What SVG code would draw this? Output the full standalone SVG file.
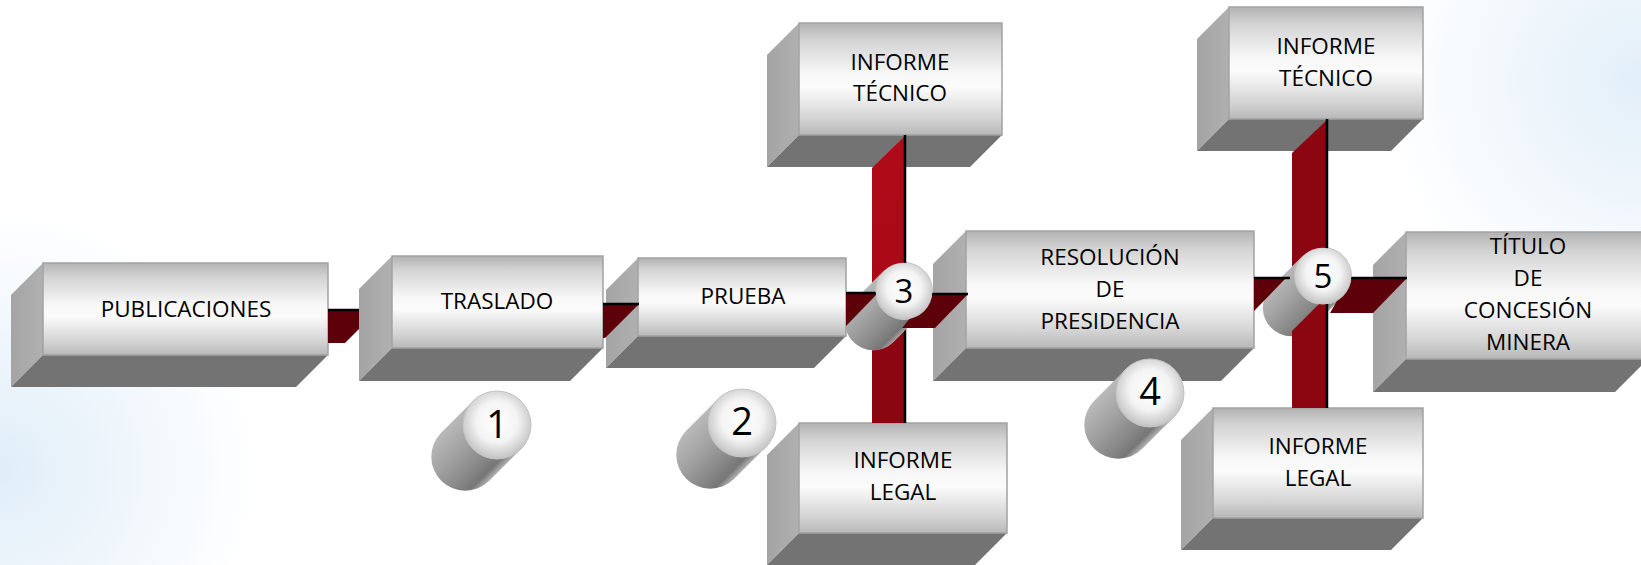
<svg xmlns="http://www.w3.org/2000/svg" width="1641" height="565" viewBox="0 0 1641 565">
<defs>
<linearGradient id="gFront" x1="0" y1="0" x2="0" y2="1">
<stop offset="0" stop-color="#b2b2b2"/><stop offset="0.15" stop-color="#d3d3d3"/><stop offset="0.45" stop-color="#f7f7f7"/><stop offset="0.58" stop-color="#fbfbfb"/><stop offset="0.85" stop-color="#d4d4d4"/><stop offset="1" stop-color="#b8b8b8"/>
</linearGradient>
<linearGradient id="gSide" x1="0" y1="0" x2="1" y2="0">
<stop offset="0" stop-color="#a4a4a4"/><stop offset="1" stop-color="#b0b0b0"/>
</linearGradient>
<linearGradient id="gBody" x1="0" y1="0" x2="1" y2="1">
<stop offset="0.27" stop-color="#b8b8b8"/><stop offset="0.42" stop-color="#a4a4a4"/><stop offset="0.6" stop-color="#888888"/><stop offset="0.69" stop-color="#767676"/><stop offset="0.74" stop-color="#b0b0b0"/>
</linearGradient>
<radialGradient id="gFace" cx="0.5" cy="0.45" r="0.55">
<stop offset="0" stop-color="#ffffff"/><stop offset="0.55" stop-color="#f4f4f4"/><stop offset="1" stop-color="#c2c2c2"/>
</radialGradient>
<linearGradient id="gBar3" gradientUnits="userSpaceOnUse" x1="0" y1="135" x2="0" y2="423">
<stop offset="0" stop-color="#b00a17"/><stop offset="0.56" stop-color="#a80915"/><stop offset="0.57" stop-color="#8d0611"/><stop offset="1" stop-color="#8a0611"/>
</linearGradient>
<radialGradient id="gGlowBL" cx="0" cy="470" r="260" gradientUnits="userSpaceOnUse">
<stop offset="0" stop-color="#d6e8f6" stop-opacity="0.75"/><stop offset="1" stop-color="#d6e8f6" stop-opacity="0"/>
</radialGradient>
<radialGradient id="gGlowTR" cx="1641" cy="80" r="260" gradientUnits="userSpaceOnUse">
<stop offset="0" stop-color="#d6e8f6" stop-opacity="0.7"/><stop offset="1" stop-color="#d6e8f6" stop-opacity="0"/>
</radialGradient>
<clipPath id="cNoHull">
<path clip-rule="evenodd" d="M0,0 H1641 V565 H0 Z M924.15,311.15 L893.15,342.15 A28.5,28.5 0 0 1 852.85,301.85 L883.85,270.85 A28.5,28.5 0 0 1 924.15,311.15 Z M1343.15,296.15 L1311.15,328.15 A28.5,28.5 0 0 1 1270.85,287.85 L1302.85,255.85 A28.5,28.5 0 0 1 1343.15,296.15 Z"/>
</clipPath>
<clipPath id="cNoFace">
<path clip-rule="evenodd" d="M0,0 H1641 V565 H0 Z M875.5,291 A28.5,28.5 0 1 0 932.5,291 A28.5,28.5 0 1 0 875.5,291 Z M1294.5,276 A28.5,28.5 0 1 0 1351.5,276 A28.5,28.5 0 1 0 1294.5,276 Z"/>
</clipPath>
</defs>
<style>
.front{fill:url(#gFront);stroke:#a2a2a2;stroke-width:1.5}
.side{fill:url(#gSide)}
.bottom{fill:#737373}
.lbl{font-family:"Open Sans","Noto Sans","DejaVu Sans",sans-serif;font-size:22.5px;fill:#000;text-anchor:middle}
.num{font-family:"Open Sans","Noto Sans","DejaVu Sans",sans-serif;fill:#000;text-anchor:middle}
.body{fill:url(#gBody)}
.face{fill:url(#gFace);stroke:#c4c4c4;stroke-width:1}
.strip{fill:#5d0009}
.edge{stroke:#000;stroke-width:2.5;fill:none}
</style>
<rect width="1641" height="565" fill="#ffffff"/>
<rect width="1641" height="565" fill="url(#gGlowBL)"/>
<rect width="1641" height="565" fill="url(#gGlowTR)"/>

<g id="publicaciones">
<polygon class="side" points="43,263 11,295 11,387 43,355"/>
<polygon class="bottom" points="43,355 328,355 296,387 11,387"/>
<rect class="front" x="43" y="263" width="285" height="92"/>
<text class="lbl" x="186" y="317">PUBLICACIONES</text>
</g>
<g id="traslado">
<polygon class="side" points="392,256 359,289 359,381 392,348"/>
<polygon class="bottom" points="392,348 603,348 570,381 359,381"/>
<rect class="front" x="392" y="256" width="211" height="92"/>
<text class="lbl" x="497" y="309">TRASLADO</text>
</g>
<g id="prueba">
<polygon class="side" points="638,258 606,290 606,368 638,336"/>
<polygon class="bottom" points="638,336 846,336 814,368 606,368"/>
<rect class="front" x="638" y="258" width="208" height="78"/>
<text class="lbl" x="743" y="304">PRUEBA</text>
</g>
<g id="informe-tecnico-1">
<polygon class="side" points="799,23 767,55 767,167 799,135"/>
<polygon class="bottom" points="799,135 1002,135 970,167 767,167"/>
<rect class="front" x="799" y="23" width="203" height="112"/>
<text class="lbl" x="900" y="70">INFORME</text>
<text class="lbl" x="900" y="101">TÉCNICO</text>
</g>
<g id="informe-legal-1">
<polygon class="side" points="799,423 767,455 767,565 799,533"/>
<polygon class="bottom" points="799,533 1007,533 975,565 767,565"/>
<rect class="front" x="799" y="423" width="208" height="110"/>
<text class="lbl" x="903" y="468">INFORME</text>
<text class="lbl" x="903" y="500">LEGAL</text>
</g>
<g id="resolucion">
<polygon class="side" points="966,231 933,264 933,381 966,348"/>
<polygon class="bottom" points="966,348 1254,348 1221,381 933,381"/>
<rect class="front" x="966" y="231" width="288" height="117"/>
<text class="lbl" x="1110" y="265">RESOLUCIÓN</text>
<text class="lbl" x="1110" y="297">DE</text>
<text class="lbl" x="1110" y="329">PRESIDENCIA</text>
</g>
<g id="informe-tecnico-2">
<polygon class="side" points="1229,7 1197,39 1197,151 1229,119"/>
<polygon class="bottom" points="1229,119 1423,119 1391,151 1197,151"/>
<rect class="front" x="1229" y="7" width="194" height="112"/>
<text class="lbl" x="1326" y="54">INFORME</text>
<text class="lbl" x="1326" y="86">TÉCNICO</text>
</g>
<g id="informe-legal-2">
<polygon class="side" points="1213,408 1181,440 1181,550 1213,518"/>
<polygon class="bottom" points="1213,518 1423,518 1391,550 1181,550"/>
<rect class="front" x="1213" y="408" width="210" height="110"/>
<text class="lbl" x="1318" y="454">INFORME</text>
<text class="lbl" x="1318" y="486">LEGAL</text>
</g>
<g id="titulo">
<polygon class="side" points="1406,232 1373,265 1373,392 1406,359"/>
<polygon class="bottom" points="1406,359 1648,359 1615,392 1373,392"/>
<rect class="front" x="1406" y="232" width="242" height="127"/>
<text class="lbl" x="1528" y="254">TÍTULO</text>
<text class="lbl" x="1528" y="286">DE</text>
<text class="lbl" x="1528" y="318">CONCESIÓN</text>
<text class="lbl" x="1528" y="350">MINERA</text>
</g>

<g id="step-1">
<path class="body" d="M521.04,449.04 L489.04,481.04 A34,34 0 0 1 440.96,432.96 L472.96,400.96 A34,34 0 0 1 521.04,449.04 Z"/>
<circle class="face" cx="497" cy="425" r="34"/>
<text class="num" x="497" y="438" font-size="38">1</text>
</g>
<g id="step-2">
<path class="body" d="M766.04,447.04 L734.04,479.04 A34,34 0 0 1 685.96,430.96 L717.96,398.96 A34,34 0 0 1 766.04,447.04 Z"/>
<circle class="face" cx="742" cy="423" r="34"/>
<text class="num" x="742" y="435" font-size="38">2</text>
</g>
<g id="step-4">
<path class="body" d="M1174.04,417.04 L1142.04,449.04 A34,34 0 0 1 1093.96,400.96 L1125.96,368.96 A34,34 0 0 1 1174.04,417.04 Z"/>
<circle class="face" cx="1150" cy="393" r="34"/>
<text class="num" x="1150" y="405" font-size="38">4</text>
</g>
<g id="step-3">
<path class="body" d="M924.15,311.15 L893.15,342.15 A28.5,28.5 0 0 1 852.85,301.85 L883.85,270.85 A28.5,28.5 0 0 1 924.15,311.15 Z"/>
<circle class="face" cx="904" cy="291" r="28.5"/>
<text class="num" x="904" y="303" font-size="33">3</text>
</g>
<g id="step-5">
<path class="body" d="M1343.15,296.15 L1311.15,328.15 A28.5,28.5 0 0 1 1270.85,287.85 L1302.85,255.85 A28.5,28.5 0 0 1 1343.15,296.15 Z"/>
<circle class="face" cx="1323" cy="276" r="28.5"/>
<text class="num" x="1323" y="288" font-size="33">5</text>
</g>

<g id="connectors">
<polygon class="strip" points="328,310 359,310 359,329 345,343 328,343"/>
<line class="edge" x1="328" y1="310" x2="359" y2="310"/>
<polygon class="strip" points="603,304 639,304 605,338 603,338"/>
<line class="edge" x1="603" y1="304" x2="639" y2="304"/>
<g clip-path="url(#cNoHull)">
<polygon points="906,135 906,423 872,423 872,168" fill="url(#gBar3)"/>
<line class="edge" x1="905" y1="135" x2="905" y2="423"/>
<polygon points="1328,119 1328,330 1292,330 1292,153" fill="#8c0611"/>
</g>
<g clip-path="url(#cNoFace)">
<polygon points="1328,295 1328,408 1292,408 1292,331" fill="#8c0611"/>
<line class="edge" x1="1327" y1="119" x2="1327" y2="408"/>
<polygon class="strip" points="846,293 878,293 846,326"/>
<line class="edge" x1="846" y1="293" x2="878" y2="293"/>
<polygon class="strip" points="930,294 968,294 935,328 902,328"/>
<line class="edge" x1="930" y1="294" x2="968" y2="294"/>
<polygon class="strip" points="1254,278 1286,278 1254,311"/>
<line class="edge" x1="1254" y1="278" x2="1290" y2="278"/>
<polygon class="strip" points="1350,278 1407,278 1373,313 1330,313"/>
<line class="edge" x1="1350" y1="278" x2="1407" y2="278"/>
</g>
</g>
</svg>
